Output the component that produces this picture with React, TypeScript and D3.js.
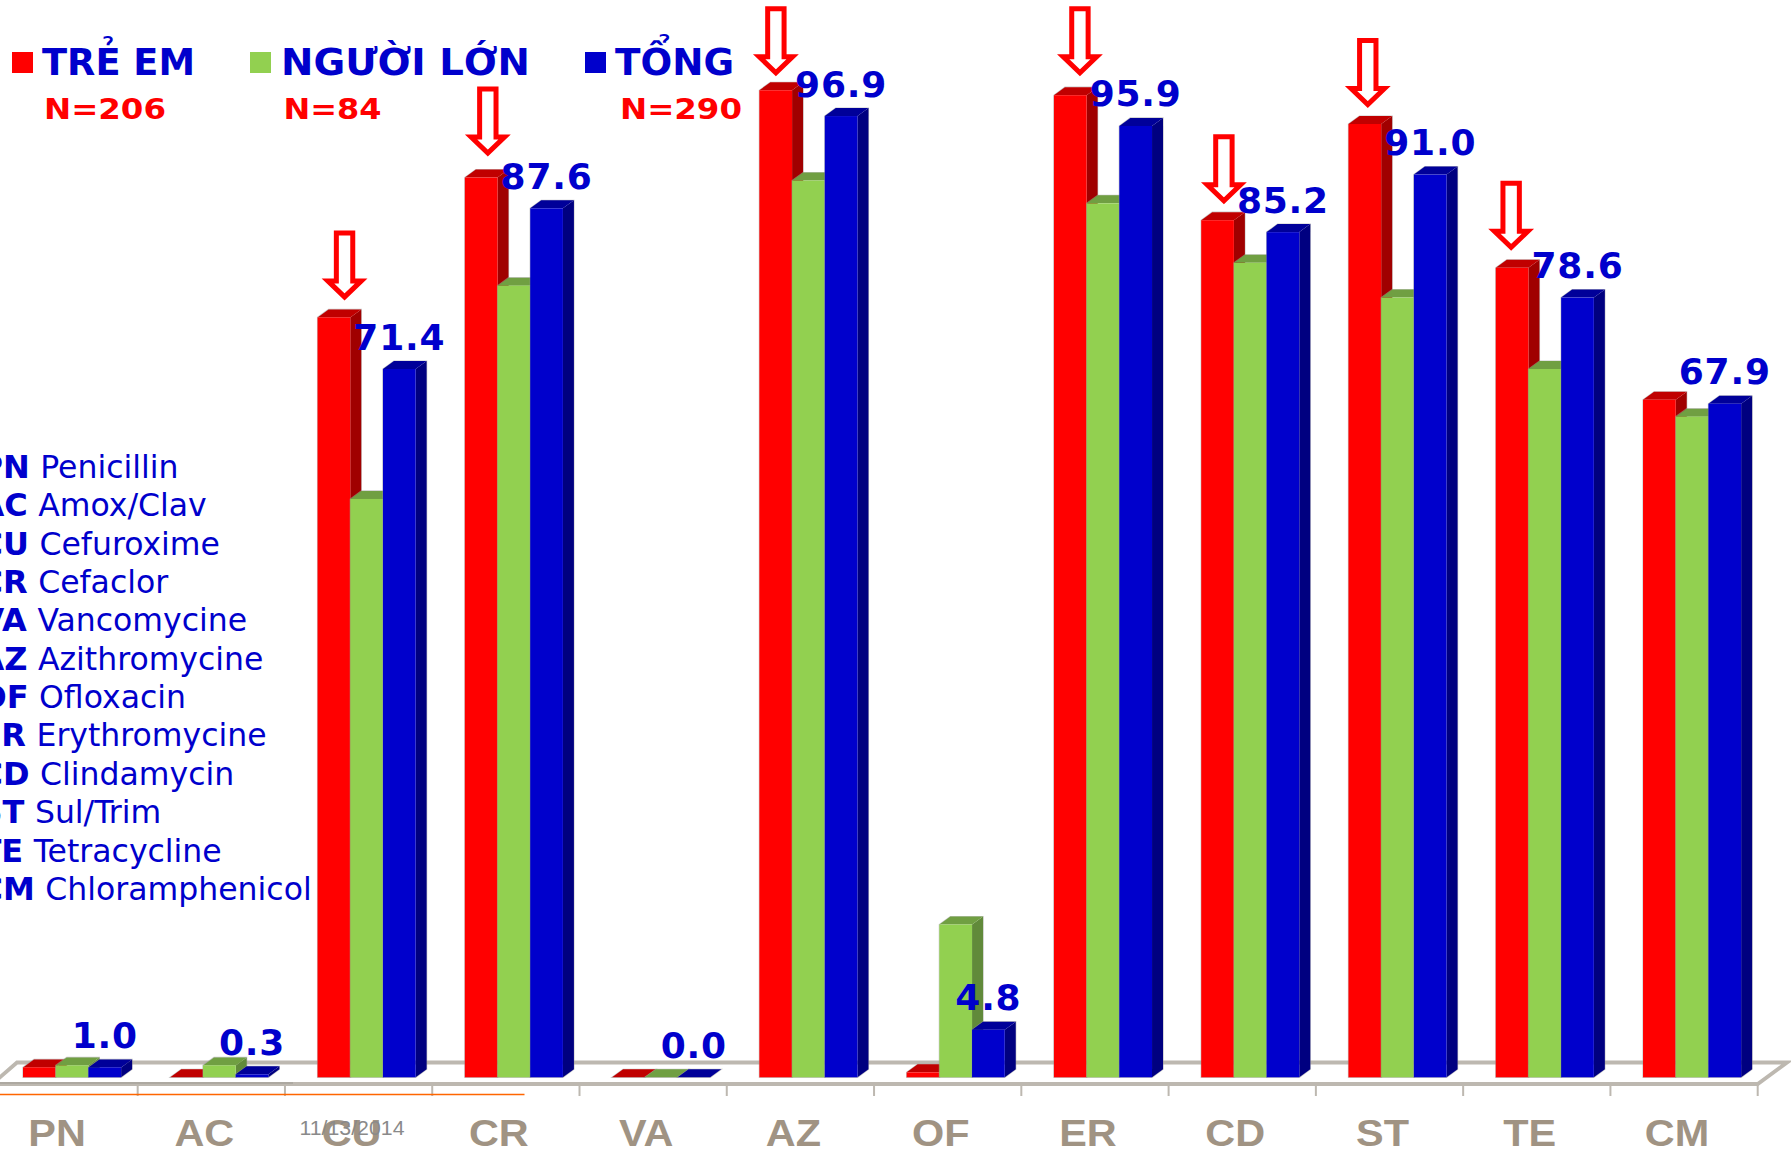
import React from "react";
import * as d3 from "d3";

// Antibiotic resistance rate (%) by drug and patient group
const categories = ["PN", "AC", "CU", "CR", "VA", "AZ", "OF", "ER", "CD", "ST", "TE", "CM"];
const children = [1.0, 0.0, 76.6, 90.7, 0.0, 99.5, 0.5, 99.0, 86.4, 96.1, 81.6, 68.3];
const adults = [1.2, 1.2, 58.3, 79.8, 0.0, 90.4, 15.4, 88.1, 82.1, 78.6, 71.4, 66.6];
const totals = [1.0, 0.3, 71.4, 87.6, 0.0, 96.9, 4.8, 95.9, 85.2, 91.0, 78.6, 67.9];

const seriesNames = ["TRẺ EM", "NGƯỜI LỚN", "TỔNG"];
const seriesCounts = ["N=206", "N=84", "N=290"];

const drugCodes = ["PN", "AC", "CU", "CR", "VA", "AZ", "OF", "ER", "CD", "ST", "TE", "CM"];
const drugNames = [
  "Penicillin", "Amox/Clav", "Cefuroxime", "Cefaclor", "Vancomycine", "Azithromycine",
  "Ofloxacin", "Erythromycine", "Clindamycin", "Sul/Trim", "Tetracycline", "Chloramphenicol",
];

// Drugs called out with a hollow arrow above the children's bar
const flaggedDrugs = ["CU", "CR", "AZ", "ER", "CD", "ST", "TE"];
const arrowNudgeX = [27, 23, 16.5, 26, 22.7, 19.3, 15.4];
const arrowGapY = [17, 21, 14, 19, 16, 16, 17];

const WIDTH = 1791;
const HEIGHT = 1150;
const BASE_Y = 1077.3;
const DEPTH_X = 11;
const DEPTH_Y = 8;
const BLUE = "#0000CC";
const FLOOR = "#BDB8B0";

const palettes = [
  { front: "#FF0000", top: "#C00000", side: "#A00000" },
  { front: "#92D050", top: "#709F42", side: "#618A3A" },
  { front: "#0000CC", top: "#000099", side: "#000080" },
];

const x = d3.scaleBand<string>().domain(categories).range([-9.6, 1757.7]).padding(0);
const y = d3.scaleLinear().domain([0, 100]).range([BASE_Y, BASE_Y - 992]);
const seriesX = d3.scaleBand<number>().domain([0, 1, 2]).range([32.6, 130.7]).padding(0);
const seriesValues = [children, adults, totals];

const pts = (p: number[][]) => p.map((q) => q.join(",")).join(" ");

function Bar({ left, w, value, series }: { left: number; w: number; value: number; series: number }) {
  const top = y(value);
  const c = palettes[series];
  const outline = [
    [left, BASE_Y], [left, top], [left + DEPTH_X, top - DEPTH_Y],
    [left + w + DEPTH_X, top - DEPTH_Y], [left + w + DEPTH_X, BASE_Y - DEPTH_Y], [left + w, BASE_Y],
  ];
  return (
    <g>
      <polygon points={pts(outline)} fill="none" stroke="#9a9a9a" strokeOpacity={0.55} strokeWidth={1.2} />
      <polygon
        points={pts([[left + w, BASE_Y], [left + w, top], [left + w + DEPTH_X, top - DEPTH_Y], [left + w + DEPTH_X, BASE_Y - DEPTH_Y]])}
        fill={c.side}
      />
      <polygon
        points={pts([[left, top], [left + DEPTH_X, top - DEPTH_Y], [left + w + DEPTH_X, top - DEPTH_Y], [left + w, top]])}
        fill={c.top}
      />
      <rect x={left} y={top} width={w} height={BASE_Y - top} fill={c.front} />
    </g>
  );
}

function Arrow({ cx, tip }: { cx: number; tip: number }) {
  const top = tip - 67.5;
  const neck = tip - 19.5;
  const d = `M${cx - 8.2},${top}H${cx + 8.2}V${neck}H${cx + 16.7}L${cx},${tip - 3.5}L${cx - 16.7},${neck}H${cx - 8.2}Z`;
  return <path d={d} fill="#fff" stroke="#FF0000" strokeWidth={5} strokeMiterlimit={6} />;
}

const legendLayout = [
  { sq: 12, tx: 42, tw: 153, nx: 44, nw: 122 },
  { sq: 250, tx: 281, tw: 249, nx: 283.5, nw: 98 },
  { sq: 585, tx: 615, tw: 119, nx: 620, nw: 122 },
];

export default function App() {
  const sans = "'DejaVu Sans', Verdana, sans-serif";
  const ticks = categories.map((c) => (x(c) as number) + x.bandwidth());
  return (
    <svg
      width={WIDTH}
      height={HEIGHT}
      viewBox={`0 0 ${WIDTH} ${HEIGHT}`}
      style={{ position: "absolute", left: 0, top: 0, display: "block", background: "#fff" }}
    >
      {/* Chart floor */}
      <g fill="none" stroke={FLOOR} strokeWidth={3.8}>
        <path d="M-2,1079L17,1062.5H1787L1757.7,1084H-2" strokeLinejoin="miter" />
        {ticks.filter((t) => t > 0).map((t) => (
          <line key={t} x1={t} x2={t} y1={1084} y2={1096} strokeWidth={2} />
        ))}
      </g>
      <line x1={0} x2={293} y1={1083} y2={1083} stroke="#A8A49D" strokeWidth={1.5} />
      <line x1={0} x2={524.5} y1={1094.5} y2={1094.5} stroke="#FF6600" strokeWidth={1.6} />

      {/* Bars */}
      {categories.map((c, i) => (
        <g key={c}>
          {seriesValues.map((vals, s) => (
            <Bar
              key={s}
              left={(x(c) as number) + (seriesX(s) as number)}
              w={seriesX.bandwidth()}
              value={vals[i]}
              series={s}
            />
          ))}
        </g>
      ))}

      {/* Category labels */}
      {categories.map((c) => (
        <text
          key={c}
          transform={`translate(${(x(c) as number) + x.bandwidth() / 2 - 7},1146) scale(1.12,1)`}
          textAnchor="middle"
          fontFamily="'Liberation Sans', Arial, sans-serif"
          fontWeight={700}
          fontSize={37}
          fill="#A09383"
        >
          {c}
        </text>
      ))}
      <text x={299.5} y={1135} fontFamily="'Liberation Sans', Arial, sans-serif" fontSize={21} fill="#8A8A8A" textLength={105} lengthAdjust="spacingAndGlyphs">
        11/13/2014
      </text>

      {/* Arrows on the flagged drugs */}
      {flaggedDrugs.map((c, k) => {
        const i = categories.indexOf(c);
        return (
          <Arrow
            key={c}
            cx={(x(c) as number) + (seriesX(0) as number) + arrowNudgeX[k]}
            tip={y(children[i]) - arrowGapY[k]}
          />
        );
      })}

      {/* Value labels above the total bars */}
      {categories.map((c, i) => (
        <text
          key={c}
          x={(x(c) as number) + (seriesX(2) as number) + seriesX.bandwidth() / 2}
          y={y(totals[i]) - 19.5}
          textAnchor="middle"
          fontFamily={sans}
          fontWeight={700}
          fontSize={36}
          letterSpacing={0.8}
          fill={BLUE}
        >
          {totals[i].toFixed(1)}
        </text>
      ))}

      {/* Legend */}
      {seriesNames.map((name, i) => {
        const l = legendLayout[i];
        return (
          <g key={name}>
            <rect x={l.sq} y={52} width={21} height={21} fill={palettes[i].front} />
            <text x={l.tx} y={75} fontFamily={sans} fontWeight={700} fontSize={37} fill={BLUE} textLength={l.tw} lengthAdjust="spacingAndGlyphs">
              {name}
            </text>
            <text x={l.nx} y={119} fontFamily={sans} fontWeight={700} fontSize={29} fill="#FF0000" textLength={l.nw} lengthAdjust="spacingAndGlyphs">
              {seriesCounts[i]}
            </text>
          </g>
        );
      })}

      {/* Drug abbreviation key */}
      {drugCodes.map((code, i) => (
        <text key={code} x={-20.5} y={478 + i * 38.35} fontFamily={sans} fontSize={31.5} fill={BLUE} xmlSpace="preserve">
          <tspan fontWeight={700} fontSize={32}>{code}</tspan>
          <tspan dx={0.5}> {drugNames[i]}</tspan>
        </text>
      ))}
    </svg>
  );
}
